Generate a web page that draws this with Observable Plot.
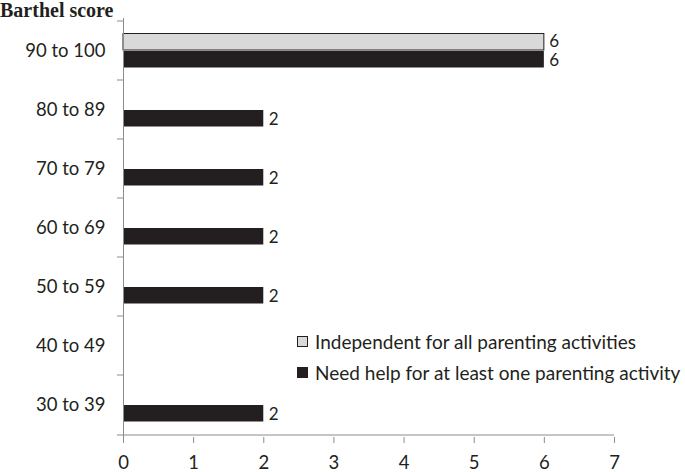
<!DOCTYPE html>
<html>
<head>
<meta charset="utf-8">
<script src="https://cdn.jsdelivr.net/npm/d3@7"></script>
<script src="https://cdn.jsdelivr.net/npm/@observablehq/plot@0.6"></script>
<style>
  html, body { margin: 0; padding: 0; background: #fff; }
  #wrap { position: relative; width: 685px; height: 472px; font-family: Lato, "Open Sans", sans-serif; color: #231f20; }
  #title { position: absolute; left: 0; top: 0px; font-family: "Liberation Serif", "DejaVu Serif", serif; font-weight: bold; font-size: 20px; line-height: 20px; }
  #legend { position: absolute; left: 297px; top: 326px; font-size: 19px; line-height: 31px; }
  .row { display: flex; align-items: center; white-space: nowrap; }
  .sw { width: 11px; height: 11px; margin-right: 7px; box-sizing: border-box; }
</style>
</head>
<body>
<div id="wrap">
  <div id="chart"></div>
  <div id="title">Barthel score</div>
  <div id="legend"></div>
</div>
<script>
const categories = ["90 to 100", "80 to 89", "70 to 79", "60 to 69", "50 to 59", "40 to 49", "30 to 39"];
const independent = [6, 0, 0, 0, 0, 0, 0];
const needHelp = [6, 2, 2, 2, 2, 0, 2];
const seriesNames = ["Independent for all parenting activities", "Need help for at least one parenting activity"];
const xTicks = [0, 1, 2, 3, 4, 5, 6, 7];

const ink = "#231f20";
const gray = "#d9d9d9";
const axisGray = "#8c8c8c";
const fs = 18.5;

const indRows = categories.map((c, i) => ({cat: c, value: independent[i]})).filter(d => d.value > 0);
const needRows = categories.map((c, i) => ({cat: c, value: needHelp[i]})).filter(d => d.value > 0);

const chart = Plot.plot({
  width: 685,
  height: 472,
  marginLeft: 123,
  marginRight: 71,
  marginTop: 18,
  marginBottom: 35,
  style: {fontFamily: "Lato, 'Open Sans', sans-serif", fontSize: fs + "px", color: ink, background: "#fff"},
  x: {domain: [0, 7]},
  y: {domain: categories, padding: 0},
  marks: [
    Plot.barX(indRows, {x: "value", y: "cat", fill: gray, stroke: ink, strokeWidth: 1, insetTop: 21.25, insetBottom: 21.25, dy: -8.75}),
    Plot.barX(needRows, {x: "value", y: "cat", fill: ink, insetTop: 21.25, insetBottom: 21.25, dy: 8.75}),
    Plot.text(indRows, {x: "value", y: "cat", text: d => String(d.value), textAnchor: "start", dx: 5, dy: -9.5, fill: ink, fontSize: 17}),
    Plot.text(needRows, {x: "value", y: "cat", text: d => String(d.value), textAnchor: "start", dx: 5, dy: 9.5, fill: ink, fontSize: 17}),
    Plot.ruleX([0], {stroke: axisGray}),
    Plot.ruleY([0], {y: () => categories[categories.length - 1], dy: 30, stroke: axisGray}),
    Plot.axisX({ticks: xTicks, tickFormat: d3.format("d"), tickSize: 6, tickPadding: 12, stroke: axisGray, fill: ink, fontSize: fs, label: null}),
    Plot.axisY({tickSize: 0, tickPadding: 18, fill: ink, fontSize: fs, label: null}),
    Plot.axisY({tickSize: 6, tickFormat: () => "", dy: -30, stroke: axisGray, label: null}),
    Plot.axisY({ticks: [categories[categories.length - 1]], tickSize: 6, tickFormat: () => "", dy: 30, stroke: axisGray, label: null})
  ]
});
document.getElementById("chart").appendChild(chart);

const legend = document.getElementById("legend");
const swatches = [{fill: gray, border: "1px solid " + ink}, {fill: ink, border: "none"}];
seriesNames.forEach((name, i) => {
  const row = document.createElement("div");
  row.className = "row";
  const sw = document.createElement("div");
  sw.className = "sw";
  sw.style.background = swatches[i].fill;
  sw.style.border = swatches[i].border;
  row.appendChild(sw);
  const t = document.createElement("span");
  t.textContent = name;
  row.appendChild(t);
  legend.appendChild(row);
});
</script>
</body>
</html>
